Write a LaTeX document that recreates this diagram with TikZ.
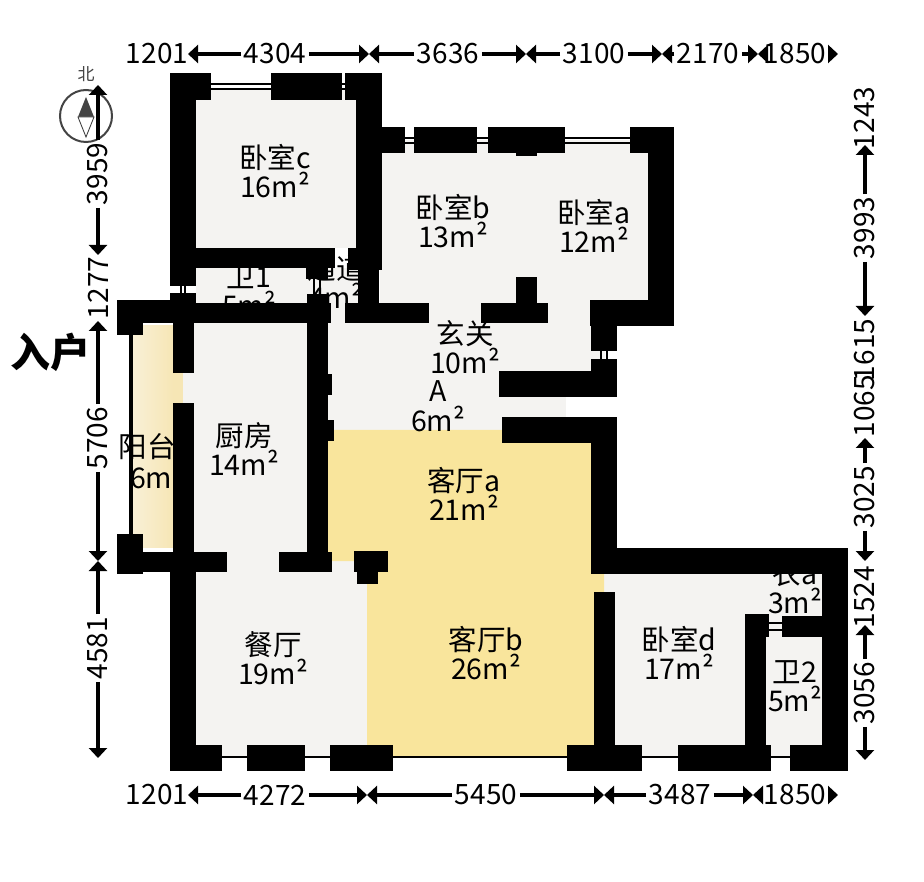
\documentclass[tikz,border=0pt]{standalone}
\usepackage{fontspec}
\setmainfont{Noto Sans CJK SC}
\usetikzlibrary{arrows.meta}
\definecolor{paper}{HTML}{F4F3F1}
\definecolor{livefloor}{HTML}{F9E59C}
\definecolor{balconya}{HTML}{F9F0D6}
\definecolor{balconyb}{HTML}{F6E6B5}
\definecolor{compassgray}{HTML}{444444}
\tikzset{
  roomlabel/.style={align=center,inner sep=0pt,text=black,font=\fontsize{28.5}{29.5}\selectfont},
  dimlabel/.style={inner sep=2.5pt,text=black,font=\fontsize{28}{29}\selectfont},
  vdimlabel/.style={dimlabel,rotate=90},
  dimline/.style={line width=3.4pt,-{Triangle[length=10pt,width=18pt]}},
  wall/.style={fill=black},
  floorfill/.style={fill=paper},
  glass/.style={line width=1.6pt,draw=black},
}
\begin{document}
\begin{tikzpicture}[x=1pt,y=-1pt]
\useasboundingbox (0,0) rectangle (924,882);
\fill[white] (0,0) rectangle (924,882);
% floors
\fill[floorfill] (196,88) rectangle (356,248);
\fill[floorfill] (196,268) rectangle (358,303);
\fill[floorfill] (380,140) rectangle (648,303);
\fill[floorfill] (328,303) rectangle (591,371);
\fill[floorfill] (328,371) rectangle (566,432);
\fill[floorfill] (590,326) rectangle (605,360);
\fill[floorfill] (183,323) rectangle (307,560);
\fill[floorfill] (196,552) rectangle (370,757);
\fill[floorfill] (604,574) rectangle (822,757);
\shade[left color=balconya,right color=balconyb] (133,326) rectangle (173,547);
\fill[balconyb] (173,373) rectangle (183,403);
\fill[livefloor] (328,430) -- (591,430) -- (591,574) -- (604,574) -- (604,592) -- (594,592)
  -- (594,757) -- (367,757) -- (367,561) -- (328,561) -- cycle;
% room labels (walls stand in front of some of them)
\node[roomlabel] (wc) at (275,171) {卧室c\\16m²};
\node[roomlabel] (wb) at (453,221) {卧室b\\13m²};
\node[roomlabel] (wa) at (594,226) {卧室a\\12m²};
\node[roomlabel] (w1) at (249,291) {卫1\\5m²};
\node[roomlabel] (gd) at (336,282) {通道\\4m²};
\node[roomlabel] (xg) at (465,347) {玄关\\10m²};
\node[roomlabel] (ra) at (438,406) {A\\6m²};
\node[roomlabel] (kt) at (244,449) {厨房\\14m²};
\node[roomlabel] (ytname) at (147,447) {阳台};
\node[roomlabel] (ytarea) at (157,476) {6m²};
\node[roomlabel] (ka) at (464,494) {客厅a\\21m²};
\node[roomlabel] (kb) at (486,653) {客厅b\\26m²};
\node[roomlabel] (ct) at (273,658) {餐厅\\19m²};
\node[roomlabel] (wd) at (679,653) {卧室d\\17m²};
\node[roomlabel] (ya) at (795,587) {衣a\\3m²};
\node[roomlabel] (w2) at (795,686) {卫2\\5m²};
% windows and thin door leaves
\draw[glass] (211,84) -- (271,84) (211,89) -- (271,89) (342,84) -- (345,84) (342,89) -- (345,89);
\draw[glass] (405,138) -- (414,138) (405,143) -- (414,143) (477,138) -- (488,138) (477,143) -- (488,143) (565,138) -- (630,138) (565,143) -- (630,143);
\draw[line width=2.6pt] (222,757) -- (247,757) (305,757) -- (330,757) (393,757) -- (567,757) (642,757) -- (678,757) (771,757) -- (790,757);
\fill[black] (128.5,335) rectangle (133,534);
\draw[glass] (181,286) -- (181,295) (185,286) -- (185,295) (314,279) -- (314,295) (320,279) -- (320,295);
\draw[glass] (601,351) -- (601,360) (607,351) -- (607,360);
\draw[glass] (769,623) -- (782,623) (769,630) -- (782,630);
% walls
\foreach \xa/\ya/\xb/\yb in {
  170/73/196/286, 170/73/211/100, 271/73/342/100, 345/73/382/100, 356/73/382/270,
  170/248/335/268, 348/248/382/270, 306/268/328/279, 358/270/379/303,
  170/293/196/323, 117/300/196/323, 196/303/331/323, 117/323/143/335, 307/294/328/323,
  173/323/194/373, 173/403/194/560, 307/323/328/560, 328/374/332/395, 328/420/334/441,
  117/552/227/572, 117/534/143/574, 279/552/332/572, 354/551/388/572, 357/571/378/584,
  170/552/196/771, 170/745/222/771, 247/745/305/771, 330/745/393/771,
  567/745/642/771, 678/745/771/771, 790/745/848/771, 822/548/848/771, 591/548/848/574,
  591/417/617/574, 502/417/617/443, 499/371/617/397, 591/359/617/371, 590/300/674/326,
  591/300/617/351, 648/127/674/326, 630/127/674/153, 382/127/405/153, 414/127/477/153,
  488/127/565/153, 516/153/537/156, 345/303/429/323, 481/303/548/323, 516/277/537/303,
  594/592/615/745, 745/614/766/745, 745/614/769/637, 782/616/848/637} {
  \fill[wall] (\xa,\ya) rectangle (\xb,\yb);
}
% compass
\draw[compassgray,line width=2pt,fill=white] (86,116) circle (26);
\fill[compassgray] (86,97) -- (94,117) -- (78,117) -- cycle;
\draw[compassgray,line width=0.9pt,fill=white] (78,117) -- (94,117) -- (86,137) -- cycle;
\node[inner sep=0pt,text=compassgray,font=\fontsize{17}{17}\selectfont] (north) at (86,74) {北};
% entrance
\node[inner sep=0pt,font=\fontsize{40}{40}\selectfont\bfseries] (entry) at (50,352) {入户};
% dimension ticks
\foreach \n/\x/\y in {ta/188/54,tb/369/54,tc/526/54,td/662/54,te/758/54,tf/838/54,
  ba/188/795,bb/367/795,bc/604/795,bd/753/795,be/838/795,
  la/98/85,lb/98/255,lc/98/321,ld/98/561,le/98/758,
  ra/865/145,rb/865/316,rc/865/438,rd/865/561,re/865/625,rf/865/760} {
  \coordinate (\n) at (\x,\y);
}
% top chain
\node[dimlabel] (t0) at (157,54) {1201};
\node[dimlabel] (t1) at (275,54) {4304};
\node[dimlabel] (t2) at (448,54) {3636};
\node[dimlabel] (t3) at (594,54) {3100};
\node[dimlabel] (t4) at (708,54) {2170};
\node[dimlabel] (t5) at (795,54) {1850};
\draw[dimline] (t1) -- (ta); \draw[dimline] (t1) -- (tb);
\draw[dimline] (t2) -- (tb); \draw[dimline] (t2) -- (tc);
\draw[dimline] (t3) -- (tc); \draw[dimline] (t3) -- (td);
\draw[dimline] (t4) -- (td); \draw[dimline] (t4) -- (te);
\draw[dimline] (t5) -- (te); \draw[dimline] (t5) -- (tf);
% bottom chain
\node[dimlabel] (b0) at (157,795) {1201};
\node[dimlabel] (b1) at (275,795) {4272};
\node[dimlabel] (b2) at (486,795) {5450};
\node[dimlabel] (b3) at (680,795) {3487};
\node[dimlabel] (b4) at (795,795) {1850};
\draw[dimline] (b1) -- (ba); \draw[dimline] (b1) -- (bb);
\draw[dimline] (b2) -- (bb); \draw[dimline] (b2) -- (bc);
\draw[dimline] (b3) -- (bc); \draw[dimline] (b3) -- (bd);
\draw[dimline] (b4) -- (bd); \draw[dimline] (b4) -- (be);
% left chain
\node[vdimlabel] (l1) at (98,174) {3959};
\node[vdimlabel] (l2) at (98,288) {1277};
\node[vdimlabel] (l3) at (98,438) {5706};
\node[vdimlabel] (l4) at (98,648) {4581};
\draw[dimline] (l1) -- (la); \draw[dimline] (l1) -- (lb);
\draw[dimline] (l3) -- (lc); \draw[dimline] (l3) -- (ld);
\draw[dimline] (l4) -- (ld); \draw[dimline] (l4) -- (le);
% right chain
\node[vdimlabel] (r1) at (865,118) {1243};
\node[vdimlabel] (r2) at (865,228) {3993};
\node[vdimlabel] (r3) at (865,350) {1615};
\node[vdimlabel] (r4) at (865,406) {1065};
\node[vdimlabel] (r5) at (865,497) {3025};
\node[vdimlabel] (r6) at (865,597) {1524};
\node[vdimlabel] (r7) at (865,693) {3056};
\draw[dimline] (r2) -- (ra); \draw[dimline] (r2) -- (rb);
\draw[dimline] (r5) -- (rc); \draw[dimline] (r5) -- (rd);
\draw[dimline] (r7) -- (re); \draw[dimline] (r7) -- (rf);
\end{tikzpicture}
\end{document}
